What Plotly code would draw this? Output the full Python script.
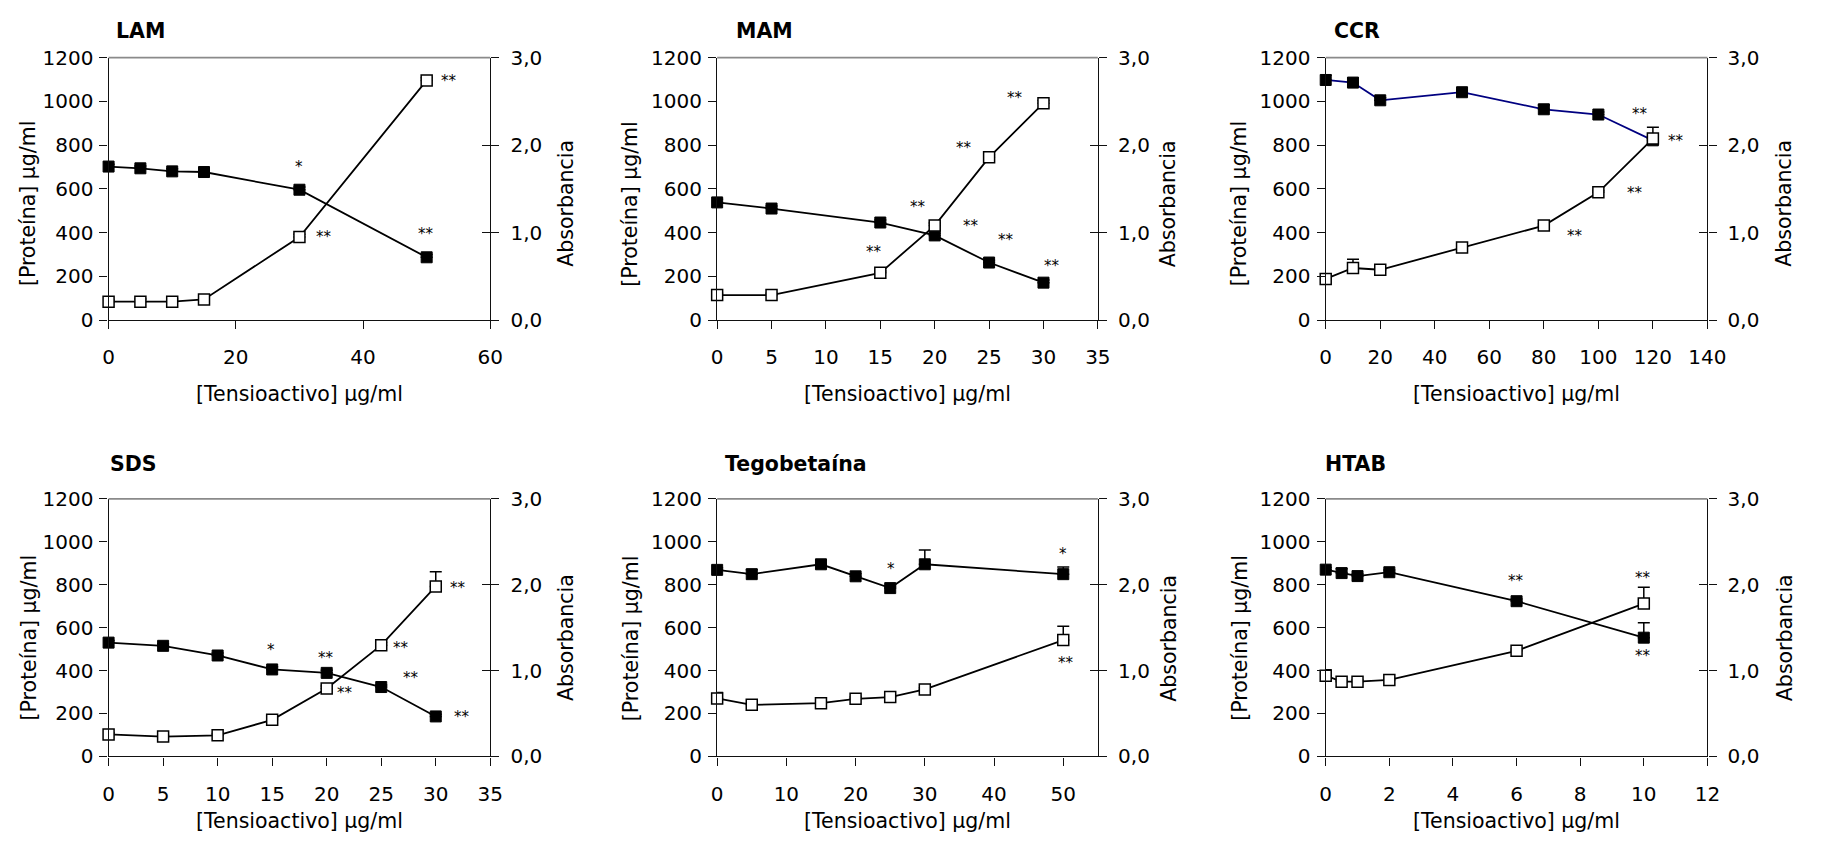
import plotly.graph_objects as go

# ---------------- data ----------------
panel_titles = ["LAM", "MAM", "CCR", "SDS", "Tegobetaína", "HTAB"]

LAM_x = [0, 5, 10, 15, 30, 50]
LAM_prot = [702, 694, 680, 677, 596, 287]
LAM_prot_err = [10, 10, 12, 12, 12, 13]
LAM_abs = [0.21, 0.21, 0.21, 0.235, 0.95, 2.74]
LAM_abs_err = [0.02, 0.03, 0.03, 0.02, 0.03, 0.03]

MAM_x = [0, 5, 15, 20, 25, 30]
MAM_prot = [538, 510, 446, 387, 263, 171]
MAM_prot_err = [15, 12, 12, 10, 10, 12]
MAM_abs = [0.285, 0.285, 0.54, 1.08, 1.86, 2.48]
MAM_abs_err = [0.02, 0.02, 0.02, 0.03, 0.03, 0.03]

CCR_x = [0, 10, 20, 50, 80, 100, 120]
CCR_prot = [1098, 1086, 1005, 1042, 964, 940, 822]
CCR_prot_err = [22, 20, 12, 10, 20, 12, 10]
CCR_abs = [0.47, 0.595, 0.575, 0.83, 1.08, 1.46, 2.075]
CCR_abs_err = [0.02, 0.10, 0.02, 0.02, 0.02, 0.02, 0.13]

SDS_x = [0, 5, 10, 15, 20, 25, 30]
SDS_prot = [530, 515, 470, 405, 389, 323, 186]
SDS_prot_err = [10, 10, 12, 12, 12, 10, 10]
SDS_abs = [0.255, 0.23, 0.245, 0.425, 0.79, 1.295, 1.98]
SDS_abs_err = [0.02, 0.02, 0.02, 0.02, 0.03, 0.03, 0.17]

TEGO_x = [0, 5, 15, 20, 25, 30, 50]
TEGO_prot = [869, 849, 895, 839, 784, 895, 849]
TEGO_prot_err = [10, 20, 20, 12, 10, 67, 33]
TEGO_abs = [0.675, 0.60, 0.62, 0.67, 0.69, 0.78, 1.355]
TEGO_abs_err = [0.07, 0.02, 0.02, 0.02, 0.02, 0.02, 0.16]

HTAB_x = [0, 0.5, 1, 2, 6, 10]
HTAB_prot = [870, 854, 840, 858, 723, 553]
HTAB_prot_err = [10, 20, 10, 10, 10, 69]
HTAB_abs = [0.94, 0.87, 0.87, 0.89, 1.23, 1.78]
HTAB_abs_err = [0.07, 0.02, 0.02, 0.02, 0.02, 0.19]

# x-axis ranges and tick values
x_ranges = [[0, 60], [0, 35], [0, 140], [0, 35], [0, 55], [0, 12]]
x_ticks = [
    [0, 20, 40, 60],
    [0, 5, 10, 15, 20, 25, 30, 35],
    [0, 20, 40, 60, 80, 100, 120, 140],
    [0, 5, 10, 15, 20, 25, 30, 35],
    [0, 10, 20, 30, 40, 50],
    [0, 2, 4, 6, 8, 10, 12],
]
y_left_ticks = [0, 200, 400, 600, 800, 1000, 1200]
y_right_ticks = [0, 1, 2, 3]
y_right_labels = ["0,0", "1,0", "2,0", "3,0"]

# significance marks (x, y on protein scale, text)
LAM_stars = [(30, 702, "*"), (53.5, 1093, "**"), (33.8, 379, "**"), (49.9, 394, "**")]
MAM_stars = [(27.4, 1014, "**"), (22.7, 788, "**"), (18.5, 516, "**"), (14.4, 312, "**"),
             (23.3, 431, "**"), (26.6, 364, "**"), (30.8, 248, "**")]
CCR_stars = [(115.4, 944, "**"), (128.5, 817, "**"), (113.3, 582, "**"), (91.6, 385, "**")]
SDS_stars = [(14.9, 495, "*"), (19.9, 458, "**"), (26.8, 504, "**"), (21.7, 295, "**"),
             (27.7, 364, "**"), (32.0, 783, "**"), (32.4, 182, "**")]
TEGO_stars = [(25.05, 875, "*"), (49.9, 943, "*"), (50.4, 434, "**")]
HTAB_stars = [(5.98, 816, "**"), (9.98, 831, "**"), (9.98, 467, "**")]

panels = [
    (LAM_x, LAM_prot, LAM_prot_err, LAM_abs, LAM_abs_err, LAM_stars),
    (MAM_x, MAM_prot, MAM_prot_err, MAM_abs, MAM_abs_err, MAM_stars),
    (CCR_x, CCR_prot, CCR_prot_err, CCR_abs, CCR_abs_err, CCR_stars),
    (SDS_x, SDS_prot, SDS_prot_err, SDS_abs, SDS_abs_err, SDS_stars),
    (TEGO_x, TEGO_prot, TEGO_prot_err, TEGO_abs, TEGO_abs_err, TEGO_stars),
    (HTAB_x, HTAB_prot, HTAB_prot_err, HTAB_abs, HTAB_abs_err, HTAB_stars),
]

# ---------------- layout geometry (pixels) ----------------
W, H = 1829, 849
col_px = [(104, 491), (721, 1107), (1338, 1725)]
row_px = [(47, 317), (501, 766)]
left_title_x = [23, 633, 1251]
right_title_x = [568, 1179, 1803]
row_title_y = [197, 644]
xlab_y = [393, 833]
panel_title_pos = [(109, 20), (738, 20), (1344, 20), (103, 465), (727, 465), (1335, 465)]

FONT = "DejaVu Sans"
FS_TICK = 20
FS_TITLE = 20.5
FS_STAR = 15


def ax_id(letter, n):
    return letter if n == 1 else f"{letter}{n}"


fig = go.Figure()
layout = dict(
    width=W, height=H, margin=dict(l=0, r=0, t=0, b=0),
    paper_bgcolor="white", plot_bgcolor="white", showlegend=False,
    font=dict(family=FONT, size=FS_TICK, color="black"),
)
annotations = []
shapes = []
AXC = "#111111"

for i, (xs, prot, perr, ab, aerr, stars) in enumerate(panels):
    r, c = divmod(i, 3)
    x0, x1 = col_px[c]
    yt, yb = row_px[r]
    xdom = [x0 / W, x1 / W]
    ydom = [1 - yb / H, 1 - yt / H]
    xa = ax_id("x", i + 1)
    yl = ax_id("y", 2 * i + 1)
    yr = ax_id("y", 2 * i + 2)
    yc = ax_id("y", 13 + i)   # extra axis: inner half of the crossing ticks on the right
    line_col = "#000080" if i == 2 else "black"

    fig.add_trace(go.Scatter(
        x=xs, y=prot, xaxis=xa, yaxis=yl, mode="lines+markers", cliponaxis=False,
        line=dict(color=line_col, width=1.8),
        marker=dict(symbol="square", size=11, color="black", line=dict(color="black", width=1)),
        error_y=dict(type="data", array=perr, arrayminus=[0] * len(perr), symmetric=False,
                     color="black", thickness=1.5, width=6),
    ))
    fig.add_trace(go.Scatter(
        x=xs, y=ab, xaxis=xa, yaxis=yr, mode="lines+markers", cliponaxis=False,
        line=dict(color="black", width=1.8),
        marker=dict(symbol="square", size=11, color="white", line=dict(color="black", width=1.5)),
        error_y=dict(type="data", array=aerr, arrayminus=[0] * len(aerr), symmetric=False,
                     color="black", thickness=1.5, width=6),
    ))
    fig.add_trace(go.Scatter(x=[], y=[], xaxis=xa, yaxis=yc, mode="markers",
                             hoverinfo="skip"))

    layout[f"xaxis{i+1}"] = dict(
        domain=xdom, anchor=yl, range=x_ranges[i], tickmode="array", tickvals=x_ticks[i],
        showline=True, linecolor=AXC, linewidth=1.4, ticks="outside", ticklen=8,
        tickwidth=1.3, tickcolor=AXC, showgrid=False, zeroline=False,
        ticklabelstandoff=11, tickfont=dict(size=FS_TICK),
    )
    layout[f"yaxis{2*i+1}"] = dict(
        domain=ydom, anchor=xa, range=[0, 1200], tickmode="array", tickvals=y_left_ticks,
        showline=True, linecolor=AXC, linewidth=1.4, ticks="outside", ticklen=8,
        tickwidth=1.3, tickcolor=AXC, showgrid=False, zeroline=False,
        ticklabelstandoff=2, tickfont=dict(size=FS_TICK),
    )
    layout[f"yaxis{2*i+2}"] = dict(
        domain=ydom, anchor=xa, overlaying=yl, side="right", range=[0, 3],
        tickmode="array", tickvals=y_right_ticks, ticktext=y_right_labels,
        showline=True, linecolor=AXC, linewidth=1.4, ticks="outside", ticklen=8,
        tickwidth=1.3, tickcolor=AXC, showgrid=False, zeroline=False,
        ticklabelstandoff=7, tickfont=dict(size=FS_TICK),
    )
    layout[f"yaxis{13+i}"] = dict(
        domain=ydom, anchor=xa, overlaying=yl, side="right", range=[0, 3],
        tickmode="array", tickvals=y_right_ticks, showticklabels=False,
        showline=False, ticks="inside", ticklen=8, tickwidth=1.3, tickcolor=AXC,
        showgrid=False, zeroline=False,
    )

    # grey top border
    shapes.append(dict(type="line", xref=f"{xa} domain", yref=f"{yl} domain",
                       x0=0, x1=1, y0=1, y1=1, line=dict(color="#8a8a8a", width=1.6)))

    # axis titles
    annotations.append(dict(text="[Proteína] µg/ml", xref="paper", yref="paper",
                            x=left_title_x[c] / W, y=1 - row_title_y[r] / H, textangle=-90,
                            showarrow=False, xanchor="center", yanchor="middle",
                            font=dict(size=FS_TITLE)))
    annotations.append(dict(text="Absorbancia", xref="paper", yref="paper",
                            x=right_title_x[c] / W, y=1 - row_title_y[r] / H, textangle=-90,
                            showarrow=False, xanchor="center", yanchor="middle",
                            font=dict(size=FS_TITLE)))
    annotations.append(dict(text="[Tensioactivo] µg/ml", xref="paper", yref="paper",
                            x=(x0 + x1) / 2 / W, y=1 - xlab_y[r] / H,
                            showarrow=False, xanchor="center", yanchor="middle",
                            font=dict(size=FS_TITLE)))
    tx, ty = panel_title_pos[i]
    annotations.append(dict(text=f"<b>{panel_titles[i]}</b>", xref="paper", yref="paper",
                            x=tx / W, y=1 - ty / H, showarrow=False,
                            xanchor="left", yanchor="middle", font=dict(size=FS_TITLE)))
    for sx, sy, st in stars:
        annotations.append(dict(text=st, xref=xa, yref=yl, x=sx, y=sy, showarrow=False,
                                xanchor="center", yanchor="middle", font=dict(size=FS_STAR)))

layout["annotations"] = annotations
layout["shapes"] = shapes
fig.update_layout(**layout)

fig.write_html(
    "out.html",
    config={"displayModeBar": False},
    post_script="document.body.style.margin='0px';document.body.style.overflow='hidden';",
)
